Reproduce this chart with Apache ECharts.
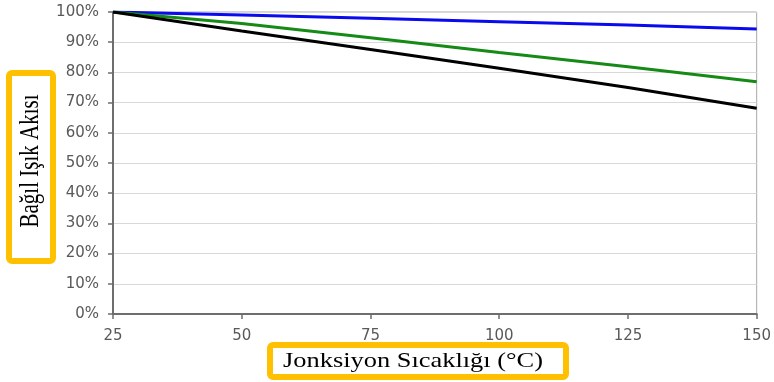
<!DOCTYPE html>
<html>
<head>
<meta charset="utf-8">
<script src="https://cdn.jsdelivr.net/npm/echarts@6/dist/echarts.min.js"></script>
<style>
  html, body { margin: 0; padding: 0; background: #fff; }
  #chart { width: 774px; height: 382px; }
</style>
</head>
<body>
<div id="chart"></div>
<script>
// Junction temperature (°C) on the x axis
const temps = [25, 50, 75, 100, 125, 150];
// Relative luminous flux (%) for three LED types
const fluxBlue  = [100, 99.0, 97.9, 96.8, 95.7, 94.4];
const fluxGreen = [100, 96.2, 91.5, 86.6, 81.9, 76.9];
const fluxBlack = [100, 93.7, 87.6, 81.4, 75.0, 68.1];
// Axis ticks
const yTicks = [0, 10, 20, 30, 40, 50, 60, 70, 80, 90, 100];
const xTicks = [25, 50, 75, 100, 125, 150];

const yTitle = 'Bağıl Işık Akısı';
const xTitle = 'Jonksiyon Sıcaklığı (°C)';

const pair = arr => temps.map((t, i) => [t, arr[i]]);
const labelStyle = { color: '#595959', fontFamily: 'DejaVu Sans', fontSize: 15 };
const amber = '#FFC000';

const chart = echarts.init(document.getElementById('chart'));
chart.setOption({
  animation: false,
  backgroundColor: '#fff',
  grid: {
    left: 113, right: 15, top: 12, bottom: 68,
    show: true, borderColor: '#a8a8a8', borderWidth: 1, backgroundColor: 'transparent'
  },
  xAxis: {
    type: 'value',
    min: xTicks[0], max: xTicks[xTicks.length - 1], interval: 25,
    axisLine: { show: true, lineStyle: { color: '#6e6e6e', width: 2 } },
    axisTick: { show: true, length: 5, lineStyle: { color: '#6e6e6e', width: 1.5 } },
    axisLabel: Object.assign({ margin: 15 }, labelStyle),
    splitLine: { show: false }
  },
  yAxis: {
    type: 'value',
    min: yTicks[0], max: yTicks[yTicks.length - 1], interval: 10,
    axisLine: { show: true, lineStyle: { color: '#6e6e6e', width: 2 } },
    axisTick: { show: true, length: 5, lineStyle: { color: '#6e6e6e', width: 1.5 } },
    axisLabel: Object.assign({ margin: 14, formatter: '{value}%' }, labelStyle),
    splitLine: { show: true, lineStyle: { color: '#d9d9d9', width: 1 } }
  },
  series: [
    { type: 'line', data: pair(fluxBlue),  symbol: 'none', lineStyle: { color: '#0a0aee', width: 3 } },
    { type: 'line', data: pair(fluxGreen), symbol: 'none', lineStyle: { color: '#168a16', width: 3 } },
    { type: 'line', data: pair(fluxBlack), symbol: 'none', lineStyle: { color: '#000000', width: 3 } }
  ],
  graphic: [
    {
      type: 'rect', shape: { x: 9, y: 73, width: 44, height: 188, r: 3 },
      style: { fill: '#fff', stroke: amber, lineWidth: 6 }, z: 10
    },
    {
      type: 'text', x: 31, y: 161, rotation: Math.PI / 2, scaleY: 1.25, z: 11,
      style: {
        text: yTitle, fill: '#000', font: '21px "Liberation Serif"',
        textAlign: 'center', textVerticalAlign: 'middle'
      }
    },
    {
      type: 'rect', shape: { x: 270, y: 345, width: 296, height: 32, r: 3 },
      style: { fill: '#fff', stroke: amber, lineWidth: 6 }, z: 10
    },
    {
      type: 'text', x: 413, y: 361, scaleX: 1.2, z: 11,
      style: {
        text: xTitle, fill: '#000', font: '22px "Liberation Serif"',
        textAlign: 'center', textVerticalAlign: 'middle'
      }
    }
  ]
});
</script>
</body>
</html>
